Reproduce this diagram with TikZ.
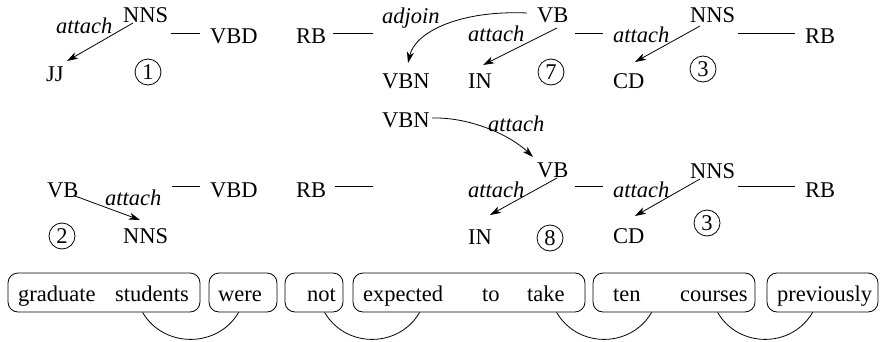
\documentclass[tikz,border=0pt]{standalone}
\usepackage{fontspec}
\setmainfont{Liberation Serif}
\usetikzlibrary{arrows.meta}
\begin{document}
\begin{tikzpicture}[x=1pt,y=1pt,
  tag/.style={font=\fontsize{22.5}{27}\selectfont, inner sep=0pt, anchor=base west},
  rel/.style={tag, font=\fontsize{22.5}{27}\selectfont\itshape},
  num/.style={circle, draw, line width=0.8pt, inner sep=0pt, minimum size=26pt, font=\fontsize{22.5}{27}\selectfont},
  arr/.style={line width=0.8pt, -{Stealth[length=11pt,width=7pt,inset=3pt]}},
  sib/.style={line width=0.8pt},
  chunk/.style={draw, line width=0.8pt, rounded corners=10pt, minimum height=39pt, inner sep=0pt},
  word/.style={font=\fontsize{22.5}{27}\selectfont, inner sep=0pt, anchor=base west},
  link/.style={line width=0.8pt}]
\useasboundingbox (0,0) rectangle (880,341);

% ---- Row 1, group 1
\node[rel] (att1) at (56,308) {attach};
\node[tag] (nns1) at (123,318) {NNS};
\node[tag] (vbd1) at (210,298) {VBD};
\node[tag] (jj1) at (46,260) {JJ};
\node[num] (c1) at (148,269) {1};
\draw[arr] ([shift={(10,0)}]nns1.base west) -- ([shift={(21,20)}]jj1.base west);
\draw[sib] ([shift={(-39,10)}]vbd1.base west) -- ([shift={(-10,10)}]vbd1.base west);

% ---- Row 1, group 7
\node[tag] (rb1) at (296,298) {RB};
\node[rel] (adj1) at (382,317) {adjoin};
\node[tag] (vb7) at (537,318) {VB};
\node[rel] (att7) at (468,300) {attach};
\node[tag] (vbn7) at (382,253) {VBN};
\node[tag] (in7) at (468,253) {IN};
\node[num] (c7) at (551,269) {7};
\draw[sib] ([shift={(37,10)}]rb1.base west) -- ([shift={(77,10)}]rb1.base west);
\draw[arr] ([shift={(-10,10)}]vb7.base west) .. controls +(-67,3) and +(7,31) .. ([shift={(26,25)}]vbn7.base west);
\draw[arr] ([shift={(20,-5)}]vb7.base west) -- ([shift={(15,23)}]in7.base west);
\draw[sib] ([shift={(38,-10)}]vb7.base west) -- ([shift={(66,-10)}]vb7.base west);

% ---- Row 1, group 3
\node[rel] (att3) at (613,299) {attach};
\node[tag] (nns3) at (690,318) {NNS};
\node[tag] (rb3) at (805,298) {RB};
\node[tag] (cd3) at (613,253) {CD};
\node[num] (c3) at (703,272) {3};
\draw[arr] ([shift={(10,-3)}]nns3.base west) -- ([shift={(22,26)}]cd3.base west);
\draw[sib] ([shift={(-67,10)}]rb3.base west) -- ([shift={(-10,10)}]rb3.base west);

% ---- Row 2, group 2
\node[tag] (vb2) at (47,144) {VB};
\node[rel] (att2) at (105,136) {attach};
\node[tag] (vbd2) at (210,144) {VBD};
\node[tag] (nns2) at (123,98) {NNS};
\node[num] (c2) at (62,105) {2};
\draw[arr] ([shift={(28,1)}]vb2.base west) -- ([shift={(17,23)}]nns2.base west);
\draw[sib] ([shift={(-38,11)}]vbd2.base west) -- ([shift={(-10,11)}]vbd2.base west);

% ---- Row 2, group 8
\node[tag] (rb8) at (296,144) {RB};
\node[tag] (vbn8) at (382,214) {VBN};
\node[rel] (att8a) at (488,210) {attach};
\node[tag] (vb8) at (537,164) {VB};
\node[rel] (att8) at (468,144) {attach};
\node[tag] (in8) at (468,97) {IN};
\node[num] (c8) at (550,103) {8};
\draw[sib] ([shift={(39,11)}]rb8.base west) -- ([shift={(77,11)}]rb8.base west);
\draw[arr] ([shift={(50,9)}]vbn8.base west) .. controls +(38,1) and +(-23,22) .. ([shift={(-4,20)}]vb8.base west);
\draw[arr] ([shift={(20,-1)}]vb8.base west) -- ([shift={(22,29)}]in8.base west);
\draw[sib] ([shift={(38,-9)}]vb8.base west) -- ([shift={(66,-9)}]vb8.base west);

% ---- Row 2, group 3
\node[rel] (att4) at (613,144) {attach};
\node[tag] (nns4) at (690,163) {NNS};
\node[tag] (rb4) at (805,144) {RB};
\node[tag] (cd4) at (613,98) {CD};
\node[num] (c4) at (707,118) {3};
\draw[arr] ([shift={(10,-1)}]nns4.base west) -- ([shift={(22,27)}]cd4.base west);
\draw[sib] ([shift={(-67,11)}]rb4.base west) -- ([shift={(-10,11)}]rb4.base west);

% ---- Chunks
\node[chunk, minimum width=192pt] (b1) at (104,48.5) {};
\node[chunk, minimum width=68pt] (b2) at (243,48.5) {};
\node[chunk, minimum width=58pt] (b3) at (314,48.5) {};
\node[chunk, minimum width=232pt] (b4) at (469,48.5) {};
\node[chunk, minimum width=162pt] (b5) at (674,48.5) {};
\node[chunk, minimum width=111pt] (b6) at (822.5,48.5) {};

\node[word] (w1) at (18,40) {graduate};
\node[word] (w2) at (115,40) {students};
\node[word] (w3) at (218,40) {were};
\node[word] (w4) at (307,40) {not};
\node[word] (w5) at (363,40) {expected};
\node[word] (w6) at (482,40) {to};
\node[word] (w7) at (527,40) {take};
\node[word] (w8) at (613,40) {ten};
\node[word] (w9) at (680,40) {courses};
\node[word] (w10) at (777,40) {previously};

\draw[link] ([xshift=135pt]b1.south west) .. controls +(21,-36) and +(-21,-36) .. ([xshift=30pt]b2.south west);
\draw[link] ([xshift=40pt]b3.south west) .. controls +(21,-36) and +(-21,-36) .. ([xshift=67pt]b4.south west);
\draw[link] ([xshift=204pt]b4.south west) .. controls +(21,-36) and +(-21,-36) .. ([xshift=59pt]b5.south west);
\draw[link] ([xshift=125pt]b5.south west) .. controls +(21,-36) and +(-21,-36) .. ([xshift=46pt]b6.south west);
\end{tikzpicture}
\end{document}
